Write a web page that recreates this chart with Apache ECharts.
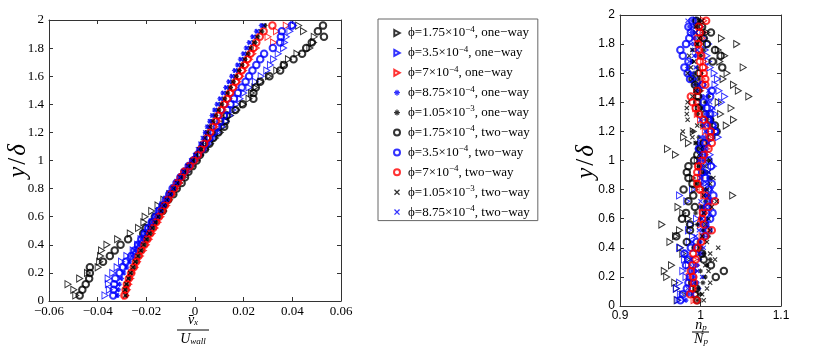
<!DOCTYPE html>
<html>
<head>
<meta charset="utf-8">
<script src="https://cdn.jsdelivr.net/npm/echarts@6/dist/echarts.min.js"></script>
<style>
  html, body { margin: 0; padding: 0; background: #fff; }
  #chart { width: 830px; height: 358px; }
</style>
</head>
<body>
<div id="chart"></div>
<script>
// wall-normal positions shared by every profile
const yLevels = [0.04,0.08,0.12,0.16,0.2,0.24,0.28,0.32,0.36,0.4,0.44,0.48,0.52,0.56,0.6,0.64,0.68,0.72,0.76,0.8,0.84,0.88,0.92,0.96,1,1.04,1.08,1.12,1.16,1.2,1.24,1.28,1.32,1.36,1.4,1.44,1.48,1.52,1.56,1.6,1.64,1.68,1.72,1.76,1.8,1.84,1.88,1.92,1.96]

const xTicksLeft = [-0.06, 0.06, 0.02]
const xTicksRight = [0.9, 1.1, 0.1]
const yTicks = [0, 2, 0.2]

const seriesNames = [
  'ϕ=1.75×10−4, one−way',
  'ϕ=3.5×10−4, one−way',
  'ϕ=7×10−4, one−way',
  'ϕ=8.75×10−4, one−way',
  'ϕ=1.05×10−3, one−way',
  'ϕ=1.75×10−4, two−way',
  'ϕ=3.5×10−4, two−way',
  'ϕ=7×10−4, two−way',
  'ϕ=1.05×10−3, two−way',
  'ϕ=8.75×10−4, two−way'
]

// left panel: mean streamwise particle velocity  v_x / U_wall
const vxTriK = [-0.049,-0.0498,-0.0522,-0.0474,-0.0442,-0.0398,-0.0392,-0.0388,-0.0384,-0.0362,-0.0318,-0.0266,-0.0232,-0.021,-0.0205,-0.0178,-0.0152,-0.0128,-0.0104,-0.0082,-0.0062,-0.0046,-0.003,-0.0012,0.0006,0.0024,0.0044,0.0064,0.0084,0.0104,0.0116,0.0128,0.0146,0.0172,0.0198,0.0222,0.0232,0.0246,0.027,0.0302,0.0336,0.0366,0.0384,0.0419,0.0472,0.0487,0.049,0.0446,0.0426]
const vxTriB = [-0.037,-0.0352,-0.0356,-0.0357,-0.0338,-0.032,-0.0302,-0.028,-0.0254,-0.0236,-0.0222,-0.0208,-0.0192,-0.0176,-0.016,-0.0146,-0.0132,-0.0116,-0.01,-0.0086,-0.007,-0.0052,-0.0034,-0.0016,0.0002,0.002,0.0038,0.0056,0.0074,0.0092,0.011,0.0128,0.0142,0.0156,0.017,0.0185,0.02,0.0222,0.0248,0.0272,0.0295,0.031,0.0323,0.0342,0.0364,0.0368,0.0375,0.039,0.0405]
const vxTriR = [-0.0284,-0.0278,-0.0272,-0.0264,-0.026,-0.0246,-0.0236,-0.0224,-0.0212,-0.02,-0.0188,-0.0176,-0.0164,-0.0152,-0.014,-0.0128,-0.0116,-0.0104,-0.0091,-0.0078,-0.0064,-0.005,-0.0036,-0.0016,0.0002,0.0018,0.0032,0.0046,0.0058,0.007,0.0082,0.0094,0.0104,0.0116,0.0128,0.014,0.0152,0.0164,0.0176,0.0188,0.02,0.0212,0.0224,0.0238,0.0252,0.0323,0.030,0.0335,0.0375]
const vxStarB = [-0.0318,-0.0314,-0.031,-0.0302,-0.0292,-0.028,-0.0268,-0.0256,-0.0244,-0.023,-0.0216,-0.0202,-0.0188,-0.0174,-0.016,-0.0146,-0.0132,-0.0118,-0.0104,-0.009,-0.0075,-0.006,-0.0045,-0.0028,-0.0012,0.0002,0.0014,0.0024,0.0034,0.0042,0.005,0.006,0.007,0.008,0.009,0.0102,0.0114,0.0126,0.0138,0.015,0.0162,0.0174,0.0186,0.0198,0.021,0.0222,0.0236,0.0252,0.0272]
const vxStarK = [-0.0282,-0.0284,-0.0279,-0.027,-0.0262,-0.025,-0.024,-0.023,-0.0218,-0.0206,-0.0194,-0.0182,-0.017,-0.0158,-0.0146,-0.0134,-0.0122,-0.011,-0.0097,-0.0084,-0.007,-0.0056,-0.0042,-0.0024,-0.0008,0.0006,0.0018,0.003,0.0042,0.0052,0.0062,0.0074,0.0086,0.0098,0.011,0.0122,0.0134,0.0146,0.0158,0.017,0.0182,0.0194,0.0206,0.0218,0.023,0.0247,0.0258,0.0275,0.0288]
const vxCircK = [-0.0474,-0.0463,-0.0449,-0.0435,-0.0432,-0.0432,-0.0378,-0.035,-0.033,-0.0306,-0.0275,-0.0213,-0.0202,-0.0174,-0.0165,-0.0133,-0.013,-0.011,-0.0089,-0.0075,-0.0055,-0.0041,-0.0027,-0.001,0.0007,0.002,0.0041,0.0059,0.0075,0.0096,0.012,0.0125,0.013,0.0166,0.0196,0.024,0.024,0.025,0.0268,0.0306,0.035,0.0365,0.0405,0.044,0.0457,0.048,0.053,0.0505,0.0526]
const vxCircB = [-0.0336,-0.0334,-0.0332,-0.0328,-0.031,-0.0296,-0.0284,-0.0262,-0.0248,-0.0234,-0.022,-0.0206,-0.0192,-0.0178,-0.0162,-0.0148,-0.0134,-0.012,-0.0106,-0.0092,-0.0076,-0.006,-0.0044,-0.0026,-0.0008,0.001,0.0028,0.0044,0.006,0.0076,0.009,0.0104,0.0118,0.0132,0.0146,0.016,0.0176,0.0192,0.0208,0.0222,0.0236,0.0252,0.0268,0.0284,0.032,0.035,0.0353,0.0357,0.0398]
const vxCircR = [-0.029,-0.0285,-0.028,-0.0272,-0.0262,-0.0252,-0.0242,-0.0232,-0.0221,-0.0208,-0.0196,-0.0184,-0.0172,-0.016,-0.0148,-0.0136,-0.0124,-0.0112,-0.0099,-0.0086,-0.0072,-0.0058,-0.0044,-0.0022,-0.0005,0.0012,0.0025,0.0038,0.005,0.0062,0.0073,0.0085,0.0096,0.0108,0.012,0.0132,0.0144,0.0156,0.0168,0.018,0.0192,0.0204,0.0216,0.0228,0.024,0.0252,0.0266,0.0282,0.0318]
const vxCrossK = [-0.0286,-0.0288,-0.0282,-0.0274,-0.0266,-0.0256,-0.0246,-0.0236,-0.0224,-0.0212,-0.02,-0.0188,-0.0176,-0.0164,-0.0152,-0.014,-0.0128,-0.0116,-0.0102,-0.0088,-0.0074,-0.006,-0.0046,-0.0028,-0.001,0.0004,0.0016,0.0028,0.004,0.005,0.006,0.0072,0.0082,0.0094,0.0106,0.0118,0.013,0.0142,0.0154,0.0166,0.0178,0.019,0.0202,0.0214,0.0226,0.0242,0.0254,0.027,0.0284]
const vxCrossB = [-0.0322,-0.032,-0.0316,-0.0306,-0.0296,-0.0284,-0.0272,-0.026,-0.0248,-0.0234,-0.022,-0.0206,-0.0192,-0.0178,-0.0164,-0.015,-0.0136,-0.0122,-0.0108,-0.0094,-0.0079,-0.0064,-0.0048,-0.0032,-0.0016,0,0.0012,0.0022,0.0032,0.0042,0.0052,0.0062,0.0072,0.0082,0.0094,0.0106,0.0118,0.013,0.0142,0.0154,0.0166,0.0178,0.019,0.0202,0.0214,0.0226,0.024,0.0256,0.0278]

// right panel: normalised particle number density  n_p / N_p
const npTriK = [0.971,0.978,0.970,0.968,0.958,0.955,0.964,0.984,0.978,0.975,0.962,0.969,0.974,0.952,0.985,0.978,0.972,1.012,1.040,0.993,0.998,0.990,1.005,1.000,0.996,0.969,0.959,0.985,0.979,0.991,1.032,1.041,1.025,1.038,1.022,1.060,1.047,1.041,1.028,1.033,1.053,1.024,1.030,1.022,1.045,1.026,1.008,1.000,0.995]
const npTriB = [0.972,0.975,0.970,0.974,0.982,0.978,0.985,0.980,0.983,0.974,0.986,0.990,0.985,0.988,0.995,1.003,1.008,0.983,0.974,0.990,1.005,1.012,1.008,1.016,1.004,1.012,1.006,1.000,1.022,1.020,1.016,1.012,1.018,1.014,1.026,1.030,1.023,1.018,1.021,1.017,1.012,1.010,1.008,1.006,1.010,1.005,1.003,1.000,0.998]
const npTriR = [0.992,0.994,0.990,0.989,0.986,0.993,0.995,0.992,0.998,1.000,1.004,1.002,1.008,1.000,1.004,1.006,1.002,1.010,1.004,1.002,0.998,1.000,1.002,0.998,1.000,1.006,1.008,1.004,1.010,1.006,1.004,1.000,0.996,0.994,0.996,0.998,1.000,1.004,1.002,1.000,1.006,1.004,1.000,0.998,1.000,1.002,1.004,1.000,1.004]
const npStarB = [0.982,0.985,0.998,0.996,0.993,0.990,0.996,0.999,1.002,0.992,1.000,1.004,1.002,0.998,1.009,1.004,1.000,1.012,1.006,1.008,1.002,1.010,1.005,1.000,1.004,1.006,1.002,0.998,1.004,1.008,1.010,1.014,1.006,1.004,1.008,1.002,0.996,0.992,0.990,0.986,0.984,0.990,0.994,0.990,0.992,0.993,0.989,0.986,0.990]
const npStarK = [0.997,1.000,0.996,1.003,1.006,1.000,1.008,1.012,1.004,1.000,0.998,1.010,1.004,0.996,1.000,0.994,1.002,1.006,1.010,1.004,0.996,1.012,1.004,0.998,1.010,1.000,0.996,0.994,0.998,0.990,1.002,1.008,0.996,1.000,1.006,1.010,1.000,0.994,0.998,0.992,0.996,0.990,1.000,1.004,0.996,1.000,1.004,0.994,0.998]
const npCircK = [0.996,0.993,0.995,0.990,1.019,1.029,1.013,1.004,1.002,0.994,0.983,0.970,0.987,0.987,0.977,0.982,0.993,0.985,0.991,0.979,0.990,0.985,0.983,0.985,0.992,0.996,0.999,1.004,1.013,1.020,1.018,1.012,1.006,0.998,0.996,0.997,0.996,0.993,0.990,0.998,1.027,1.015,1.025,1.018,1.008,1.004,1.013,1.002,0.995]
const npCircB = [0.975,0.978,0.983,0.985,0.987,0.990,0.982,0.985,0.980,0.988,0.995,1.005,1.010,1.006,1.012,1.015,1.008,1.010,1.016,1.010,1.014,1.006,1.002,1.013,1.010,1.003,0.998,1.006,1.012,1.018,1.015,1.010,1.012,1.008,1.004,1.012,1.014,1.002,0.987,0.984,0.980,0.985,0.978,0.975,0.982,0.986,0.988,0.985,0.990]
const npCircR = [0.995,0.987,0.990,0.992,0.991,0.988,0.990,0.994,0.991,0.996,1.001,1.006,1.014,1.004,1.002,1.003,1.010,1.018,1.006,0.999,0.996,0.995,0.996,0.997,1.002,1.004,1.010,1.014,1.012,1.013,1.008,1.004,0.998,0.994,0.990,0.988,0.996,1.006,1.006,1.004,1.003,0.999,1.001,0.998,0.997,0.996,0.999,0.998,1.007]
const npCrossK = [1.004,1.002,1.008,1.012,1.004,1.010,1.006,1.018,1.012,1.022,1.008,1.002,1.012,1.006,1.010,1.004,1.014,1.020,1.004,1.008,1.012,1.016,1.010,1.006,1.012,0.998,1.000,0.994,0.990,0.978,0.996,0.984,0.983,0.983,0.984,0.990,0.994,0.998,0.990,0.984,0.988,0.992,0.986,0.990,0.996,0.998,0.994,0.994,1.002]
const npCrossB = [0.980,0.990,0.984,0.992,1.002,0.996,0.992,0.988,0.998,1.004,0.990,0.994,0.998,1.008,1.002,1.012,1.006,1.000,1.008,1.014,1.008,1.000,1.010,1.004,0.998,1.000,1.006,1.010,1.000,1.006,1.004,1.000,1.010,1.016,1.012,1.006,1.010,0.998,0.994,0.990,0.994,0.986,0.992,0.996,0.988,0.991,0.994,0.990,0.984]

const leftData = [vxTriK, vxTriB, vxTriR, vxStarB, vxStarK, vxCircK, vxCircB, vxCircR, vxCrossK, vxCrossB]
const rightData = [npTriK, npTriB, npTriR, npStarB, npStarK, npCircK, npCircB, npCircR, npCrossK, npCrossB]
const kinds = ['tri', 'tri', 'tri', 'star', 'star', 'circ', 'circ', 'circ', 'cross', 'cross']
const colors = ['#000', '#0000ff', '#ff0000', '#0000ff', '#000', '#000', '#0000ff', '#ff0000', '#000', '#0000ff']

const TRI = 'path://M0,0L9,5L0,10Z'
const STAR = 'path://M0,4L10,4L10,6L0,6Z M4,0L6,0L6,10L4,10Z M1,2.4L2.4,1L9,7.6L7.6,9Z M7.6,1L9,2.4L2.4,9L1,7.6Z'
const CROSS = 'path://M0,1.6L1.6,0L10,8.4L8.4,10Z M8.4,0L10,1.6L1.6,10L0,8.4Z'
const SERIF = 'Liberation Serif'
const SANS = 'Liberation Sans'
const HOLLOW = 'rgba(255,255,255,0)'

function markerStyle(kind, color) {
  if (kind === 'tri') return { symbol: TRI, symbolSize: [6, 7], itemStyle: { color: HOLLOW, borderColor: color, borderWidth: 1 } }
  if (kind === 'circ') return { symbol: 'circle', symbolSize: 6.5, itemStyle: { color: HOLLOW, borderColor: color, borderWidth: 2 } }
  if (kind === 'star') return { symbol: STAR, symbolSize: 5, itemStyle: { color: color } }
  return { symbol: CROSS, symbolSize: 5, itemStyle: { color: color } }
}

function makeSeries(data, axisIndex) {
  return data.map((xs, i) => Object.assign({
    name: seriesNames[i],
    type: 'scatter',
    xAxisIndex: axisIndex,
    yAxisIndex: axisIndex,
    data: yLevels.map((y, j) => [xs[j], y])
  }, markerStyle(kinds[i], colors[i])))
}

const minus = (s) => String(s).replace('-', '−')

function xAxes(ticks, grid, font, size, fmt) {
  let base = {
    gridIndex: grid, type: 'value', min: ticks[0], max: ticks[1], interval: ticks[2],
    splitLine: { show: false },
    axisLine: { show: true, onZero: false, lineStyle: { color: '#333' } },
    axisTick: { show: true, inside: true, length: 4, lineStyle: { color: '#333' } }
  }
  return [
    Object.assign({}, base, { position: 'bottom', axisLabel: { color: '#000', fontFamily: font, fontSize: size, margin: 4, formatter: fmt } }),
    Object.assign({}, base, { position: 'top', axisLabel: { show: false } })
  ]
}

function yAxes(grid, font, size) {
  let base = {
    gridIndex: grid, type: 'value', min: yTicks[0], max: yTicks[1], interval: yTicks[2],
    splitLine: { show: false },
    axisLine: { show: true, onZero: false, lineStyle: { color: '#333' } },
    axisTick: { show: true, inside: true, length: 4, lineStyle: { color: '#333' } }
  }
  return [
    Object.assign({}, base, { position: 'left', axisLabel: { color: '#000', fontFamily: font, fontSize: size, margin: 5 } }),
    Object.assign({}, base, { position: 'right', axisLabel: { show: false } })
  ]
}

const textRich = {
  i: { fontFamily: SERIF, fontStyle: 'italic', fontSize: 14, color: '#000' },
  r: { fontFamily: SERIF, fontSize: 14, color: '#000' },
  s: { fontFamily: SERIF, fontStyle: 'italic', fontSize: 9, color: '#000', padding: [6, 0, 0, 0] },
  yi: { fontFamily: SERIF, fontStyle: 'italic', fontSize: 25, color: '#000' },
  yr: { fontFamily: SERIF, fontSize: 25, color: '#000', padding: [0, 2, 0, 2] }
}

function label(x, y, text, rotation) {
  return { type: 'text', x: x, y: y, rotation: rotation || 0, style: { text: text, rich: textRich, align: 'center', verticalAlign: 'middle' } }
}

let chart = echarts.init(document.getElementById('chart'))
chart.setOption({
  animation: false,
  backgroundColor: '#fff',
  grid: [
    { left: 49, top: 20, width: 292, height: 281 },
    { left: 620, top: 15, width: 161, height: 291 }
  ],
  xAxis: [].concat(
    xAxes(xTicksLeft, 0, SERIF, 13, v => v === 0 ? '0' : minus(v.toFixed(2))),
    xAxes(xTicksRight, 1, SANS, 12, v => String(Math.round(v * 10) / 10))
  ),
  yAxis: [].concat(yAxes(0, SERIF, 13), yAxes(1, SANS, 12)),
  legend: {
    orient: 'vertical',
    left: 378,
    top: 19,
    data: seriesNames,
    itemWidth: 6,
    itemHeight: 6,
    itemGap: 5.4,
    padding: [6, 8, 2, 15],
    backgroundColor: '#fff',
    borderColor: '#666',
    borderWidth: 1,
    borderRadius: 0,
    selectedMode: false,
    formatter: (name) => {
      let m = name.match(/^(.*×10)(−\d)(, .*)$/)
      return '{g|}{t|' + m[1] + '}{sup|' + m[2] + '}{t|' + m[3] + '}'
    },
    textStyle: {
      rich: {
        g: { width: 3 },
        t: { fontFamily: SERIF, fontSize: 13, lineHeight: 16, color: '#000' },
        sup: { fontFamily: SERIF, fontSize: 9, lineHeight: 8, verticalAlign: 'top', color: '#000' }
      }
    }
  },
  graphic: [
    label(18, 161, '{yi|y}{yr|/}{yi|δ}', Math.PI / 2),
    label(586, 162, '{yi|y}{yr|/}{yi|δ}', Math.PI / 2),
    label(193, 320, '{i|v̄}{s|x}'),
    { type: 'line', shape: { x1: 177, y1: 330, x2: 209, y2: 330 }, style: { stroke: '#000', lineWidth: 1 } },
    label(193, 339, '{i|U}{s|wall}'),
    label(701, 325, '{i|n}{s|p}'),
    { type: 'line', shape: { x1: 692, y1: 332, x2: 709, y2: 332 }, style: { stroke: '#000', lineWidth: 1 } },
    label(701, 339, '{i|N}{s|p}')
  ],
  series: [].concat(makeSeries(leftData, 0), makeSeries(rightData, 2))
})
</script>
</body>
</html>
